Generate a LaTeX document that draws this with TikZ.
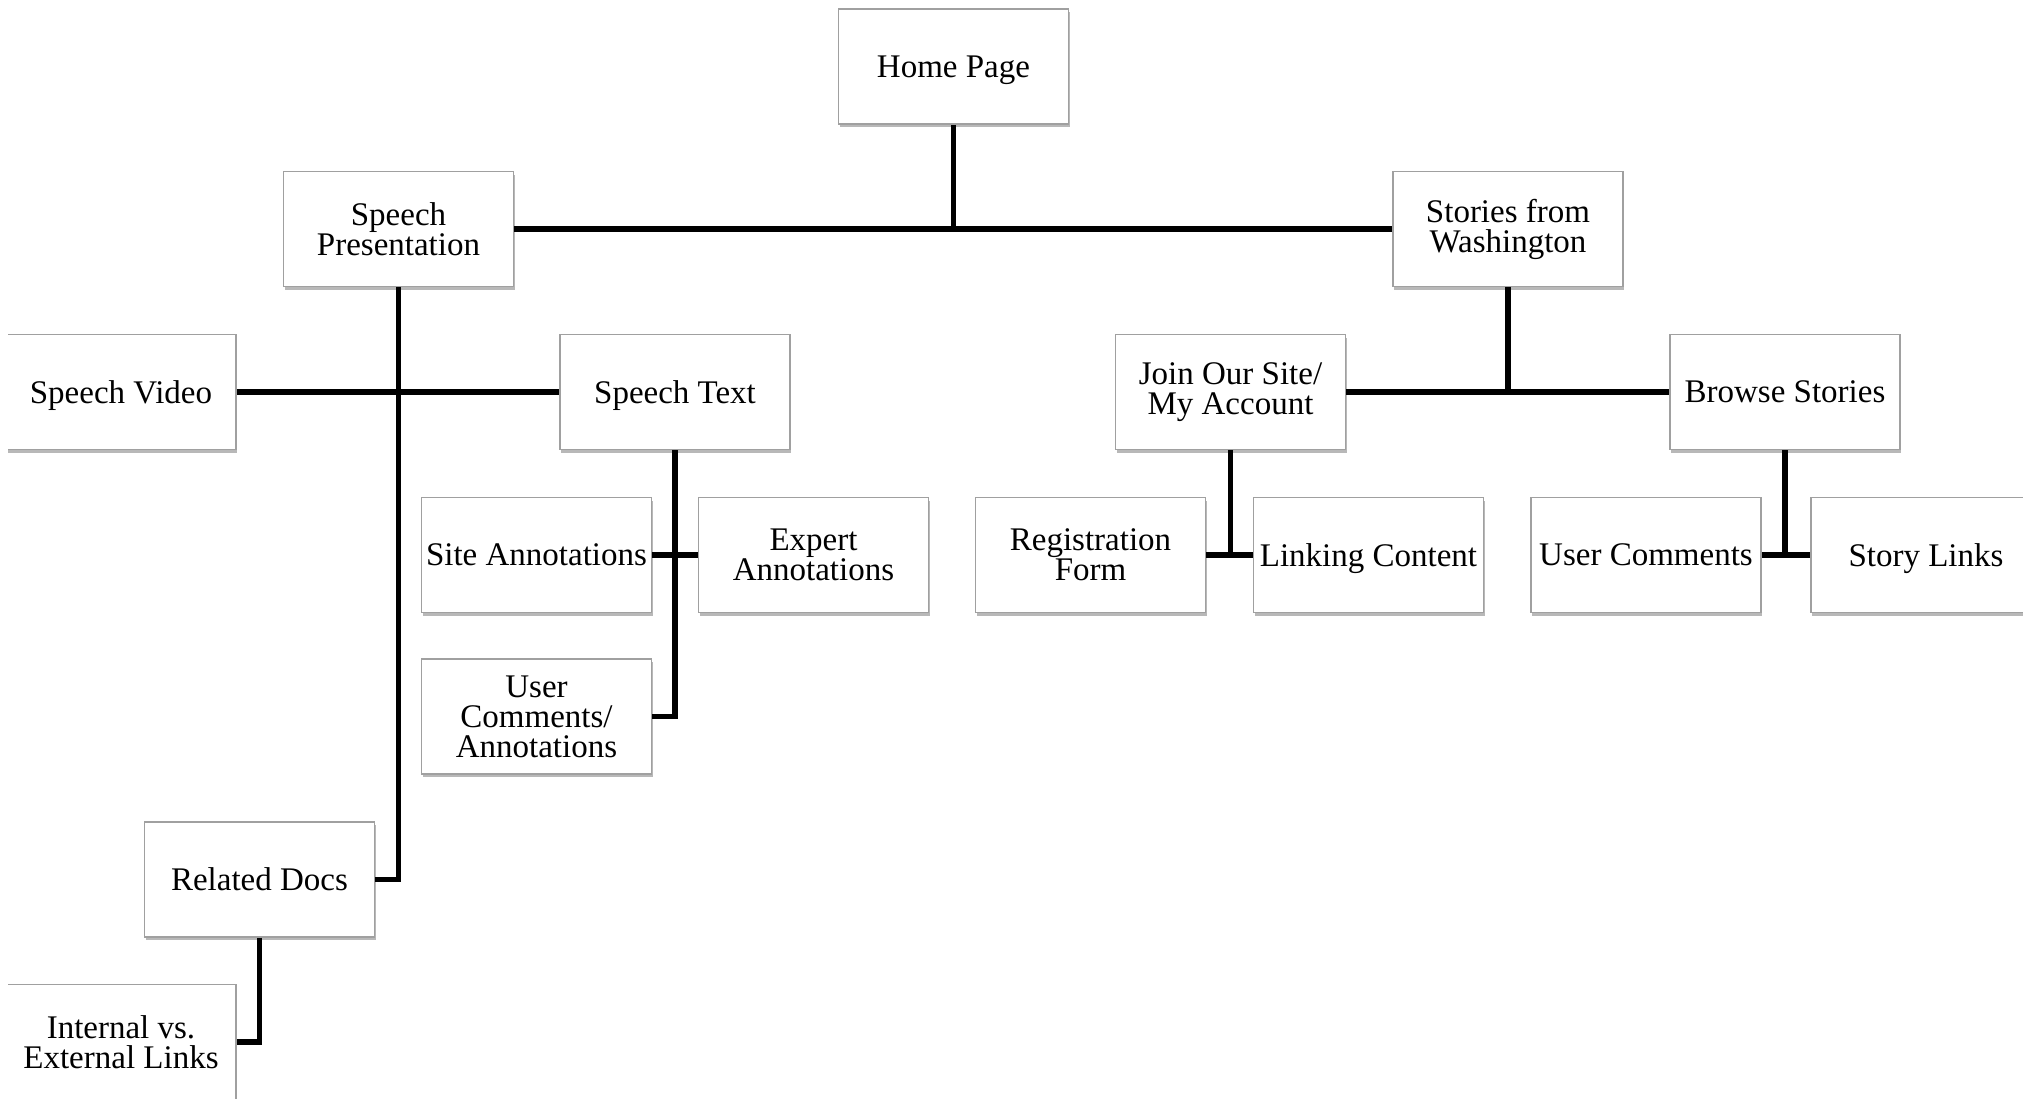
\documentclass[tikz,border=0pt]{standalone}
\usepackage{fontspec}
\setmainfont{Liberation Serif}
\usetikzlibrary{shadows}
\definecolor{boxline}{RGB}{160,160,160}
\tikzset{
  pagebox/.style={draw=boxline, line width=0.8pt, fill=white,
    minimum width=115pt, minimum height=57.5pt, inner sep=0pt,
    align=center, font=\fontsize{16.5}{15}\selectfont,
    drop shadow={shadow xshift=0.5pt, shadow yshift=-1.6pt, fill=black, opacity=0.28}},
  oneline/.style={text depth=0pt},
  link/.style={line width=2.6pt, black}
}
\begin{document}
\begin{tikzpicture}[x=0.5pt,y=-0.5pt]
\useasboundingbox (0,0) rectangle (2023,1102);
\fill[white] (0,0) rectangle (2023,1102);
\begin{scope}
\clip (8,0) rectangle (2023,1098);
\node[pagebox,oneline] (home) at (953.5,66.5) {Home Page};
\node[pagebox] (sp) at (398.5,229) {Speech\\Presentation};
\node[pagebox] (sw) at (1508,229) {Stories from\\Washington};
\node[pagebox,oneline] (sv) at (121,392) {Speech Video};
\node[pagebox,oneline] (st) at (675,392) {Speech Text};
\node[pagebox] (join) at (1230.5,392) {Join Our Site/\\My Account};
\node[pagebox,oneline] (browse) at (1785,392) {Browse Stories};
\node[pagebox,oneline] (sa) at (536.5,555) {Site Annotations};
\node[pagebox] (ea) at (813.5,555) {Expert\\Annotations};
\node[pagebox] (reg) at (1090.5,555) {Registration\\Form};
\node[pagebox,oneline] (lc) at (1368.5,555) {Linking Content};
\node[pagebox,oneline] (uc) at (1646,555) {User Comments};
\node[pagebox,oneline] (sl) at (1926,555) {Story Links};
\node[pagebox] (uca) at (536.5,716.5) {User\\Comments/\\Annotations};
\node[pagebox,oneline] (rd) at (259.5,879.5) {Related Docs};
\node[pagebox] (ivx) at (121,1042) {Internal vs.\\External Links};
\end{scope}

\draw[link] (sp.east) -- (sw.west);
\draw[link] (home.south) -- (home.south |- sp.east);
\draw[link] (sp.south) -- (sp.south |- rd.east) -- (rd.east);
\draw[link] (sv.east) -- (st.west);
\draw[link] (st.south) -- (st.south |- uca.east) -- (uca.east);
\draw[link] (sa.east) -- (ea.west);
\draw[link] (sw.south) -- (sw.south |- join.east);
\draw[link] (join.east) -- (browse.west);
\draw[link] (join.south) -- (join.south |- reg.east);
\draw[link] (reg.east) -- (lc.west);
\draw[link] (browse.south) -- (browse.south |- uc.east);
\draw[link] (uc.east) -- (sl.west);
\draw[link] (rd.south) -- (rd.south |- ivx.east) -- (ivx.east);
\end{tikzpicture}
\end{document}
